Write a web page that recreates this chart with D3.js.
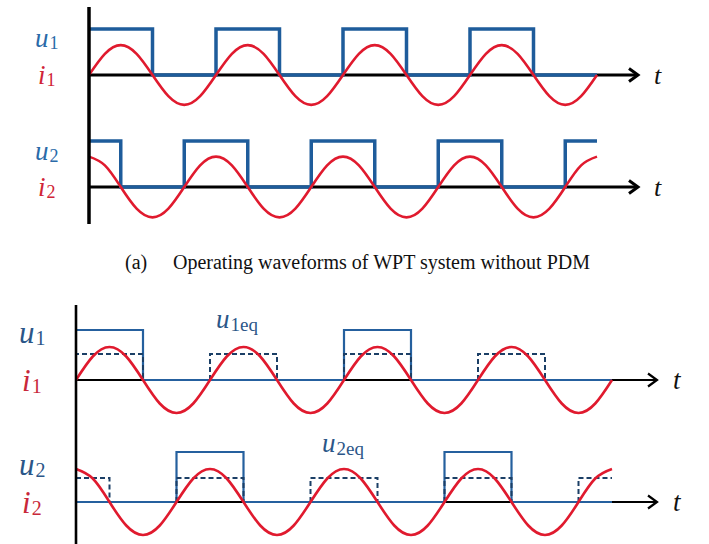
<!DOCTYPE html>
<html>
<head>
<meta charset="utf-8">
<script src="https://cdn.jsdelivr.net/npm/d3@7"></script>
</head>
<body style="margin:0">
<svg id="fig" width="709" height="544"></svg>
<script>
// ---- waveform data (time in switching cycles, amplitudes relative to the square-wave height) ----
const sampleStep = 0.125;   // current samples every 1/8 cycle

// (a) without PDM
const i1A = [0, .46, .65, .46, 0, -.46, -.65, -.46,
             0, .46, .65, .46, 0, -.46, -.65, -.46,
             0, .46, .65, .46, 0, -.46, -.65, -.46,
             0, .46, .65, .46, 0, -.46, -.65, -.46, 0];
const i2A = [.66, .47, 0, -.47, -.66, -.47, 0, .47,
             .66, .47, 0, -.47, -.66, -.47, 0, .47,
             .66, .47, 0, -.47, -.66, -.47, 0, .47,
             .66, .47, 0, -.47, -.66, -.47, 0, .47, .66];
const u1A = [[0, 1], [0.5, 0], [1, 1], [1.5, 0], [2, 1], [2.5, 0], [3, 1], [3.5, 0], [4, 0]];
const u2A = [[0, 1], [0.25, 0], [0.75, 1], [1.25, 0], [1.75, 1], [2.25, 0], [2.75, 1], [3.25, 0], [3.75, 1], [4, 1]];

// (b) with PDM
const i1B = [0, .47, .66, .47, 0, -.47, -.66, -.47,
             0, .47, .66, .47, 0, -.47, -.66, -.47,
             0, .47, .66, .47, 0, -.47, -.66, -.47,
             0, .47, .66, .47, 0, -.47, -.66, -.47, 0];
const i2B = [.66, .47, 0, -.47, -.66, -.47, 0, .47,
             .66, .47, 0, -.47, -.66, -.47, 0, .47,
             .66, .47, 0, -.47, -.66, -.47, 0, .47,
             .66, .47, 0, -.47, -.66, -.47, 0, .47, .66];
const u1B = [[0, 1], [0.5, 0], [2, 1], [2.5, 0], [4, 0]];
const u2B = [[0, 0], [0.75, 1], [1.25, 0], [2.75, 1], [3.25, 0], [4, 0]];
const u1eqLevel = 0.52;
const u2eqLevel = 0.48;
const u1eqPulses = [[0, 0.5], [1, 1.5], [2, 2.5], [3, 3.5]];
const u2eqPulses = [[0, 0.25], [0.75, 1.25], [1.75, 2.25], [2.75, 3.25], [3.75, 4]];
const cycles = 4;

const caption = ["(a)", "Operating waveforms of WPT system without PDM"];

// ---- drawing ----
const svg = d3.select("#fig");
const RED = "#e01a2e";
const SERIF = '"Liberation Serif"';

function samples(vals) {
  return vals.map((v, k) => [k * sampleStep, v]);
}

function lineGen(x, y, curve) {
  return d3.line().x(d => x(d[0])).y(d => y(d[1])).curve(curve);
}

function arrowAxis(g, x0, x1, y, w) {
  g.append("line").attr("x1", x0).attr("x2", x1).attr("y1", y).attr("y2", y)
    .attr("stroke", "#000").attr("stroke-width", w);
  g.append("path")
    .attr("d", `M${x1 - 9},${y - 6.5}L${x1},${y}L${x1 - 9},${y + 6.5}`)
    .attr("fill", "none").attr("stroke", "#000").attr("stroke-width", w)
    .attr("stroke-linejoin", "miter").attr("stroke-linecap", "butt");
}

// a math symbol: italic letter followed by an upright subscript, as two text nodes
function symbol(x, y, main, sub, size, subSize, drop, color) {
  const a = svg.append("text").attr("x", x).attr("y", y)
    .style("font-family", SERIF).attr("font-style", "italic")
    .attr("font-size", size).attr("fill", color).text(main);
  const w = a.node().getComputedTextLength();
  svg.append("text").attr("x", x + w + 1).attr("y", y + drop)
    .style("font-family", SERIF)
    .attr("font-size", subSize).attr("fill", color).text(sub);
}

function tLabel(x, y, size) {
  svg.append("text").attr("x", x).attr("y", y)
    .style("font-family", SERIF).attr("font-style", "italic")
    .attr("font-size", size).attr("fill", "#111").text("t");
}

// Panel (a)
{
  const x = d3.scaleLinear([0, cycles], [89, 597]);
  const rows = [
    { base: 75, u: u1A, i: i1A },
    { base: 187, u: u2A, i: i2A }
  ];
  rows.forEach(r => {
    const y = d3.scaleLinear([0, 1], [r.base, r.base - 46]);
    arrowAxis(svg, 89, 638, r.base, 3);
    svg.append("path").attr("d", lineGen(x, y, d3.curveStepAfter)(r.u))
      .attr("fill", "none").attr("stroke", "#1e5c9b").attr("stroke-width", 3.5)
      .attr("stroke-linejoin", "miter");
    svg.append("path").attr("d", lineGen(x, y, d3.curveNatural)(samples(r.i)))
      .attr("fill", "none").attr("stroke", RED).attr("stroke-width", 2.6);
    tLabel(654, r.base + 9, 26);
  });
  svg.append("line").attr("x1", 89).attr("x2", 89).attr("y1", 7).attr("y2", 224)
    .attr("stroke", "#000").attr("stroke-width", 3.5);

  symbol(35, 47, "u", "1", 27, 18, 2, "#2a6aa8");
  symbol(38, 84, "i", "1", 27, 18, 2, "#d02436");
  symbol(35, 160, "u", "2", 27, 18, 2, "#2a6aa8");
  symbol(38, 196, "i", "2", 27, 18, 2, "#d02436");

  svg.append("text").attr("x", 125).attr("y", 269).style("font-family", SERIF)
    .attr("font-size", 20).attr("fill", "#111").text(caption[0]);
  svg.append("text").attr("x", 173).attr("y", 269).style("font-family", SERIF)
    .attr("font-size", 20).attr("fill", "#111").text(caption[1]);
}

// Panel (b)
{
  const x = d3.scaleLinear([0, cycles], [76, 612]);
  const rows = [
    { base: 380, u: u1B, i: i1B, eq: u1eqPulses, lvl: u1eqLevel },
    { base: 502, u: u2B, i: i2B, eq: u2eqPulses, lvl: u2eqLevel }
  ];
  rows.forEach(r => {
    const y = d3.scaleLinear([0, 1], [r.base, r.base - 50]);
    arrowAxis(svg, 76, 657, r.base, 2.2);
    svg.append("path").attr("d", lineGen(x, y, d3.curveStepAfter)(r.u))
      .attr("fill", "none").attr("stroke", "#25609e").attr("stroke-width", 2.2)
      .attr("stroke-linejoin", "miter");
    r.eq.forEach(p => {
      const pts = [[p[0], 0], [p[0], r.lvl], [p[1], r.lvl]];
      if (p[1] < cycles) pts.push([p[1], 0]);
      svg.append("path").attr("d", lineGen(x, y, d3.curveLinear)(pts))
        .attr("fill", "none").attr("stroke", "#1b3f66").attr("stroke-width", 2)
        .attr("stroke-dasharray", "5,3");
    });
    svg.append("path").attr("d", lineGen(x, y, d3.curveNatural)(samples(r.i)))
      .attr("fill", "none").attr("stroke", RED).attr("stroke-width", 2.6);
    tLabel(673, r.base + 9, 27);
  });
  svg.append("line").attr("x1", 76).attr("x2", 76).attr("y1", 305).attr("y2", 544)
    .attr("stroke", "#000").attr("stroke-width", 2.6);

  symbol(19, 343, "u", "1", 31, 20, 2, "#2b5688");
  symbol(22, 391, "i", "1", 31, 20, 2, "#c8283a");
  symbol(19, 475, "u", "2", 31, 20, 2, "#2b5688");
  symbol(22, 513, "i", "2", 31, 20, 2, "#c8283a");
  symbol(216, 328, "u", "1eq", 27, 19, 3, "#2b5688");
  symbol(322, 452, "u", "2eq", 27, 19, 3, "#2b5688");
}
</script>
</body>
</html>
